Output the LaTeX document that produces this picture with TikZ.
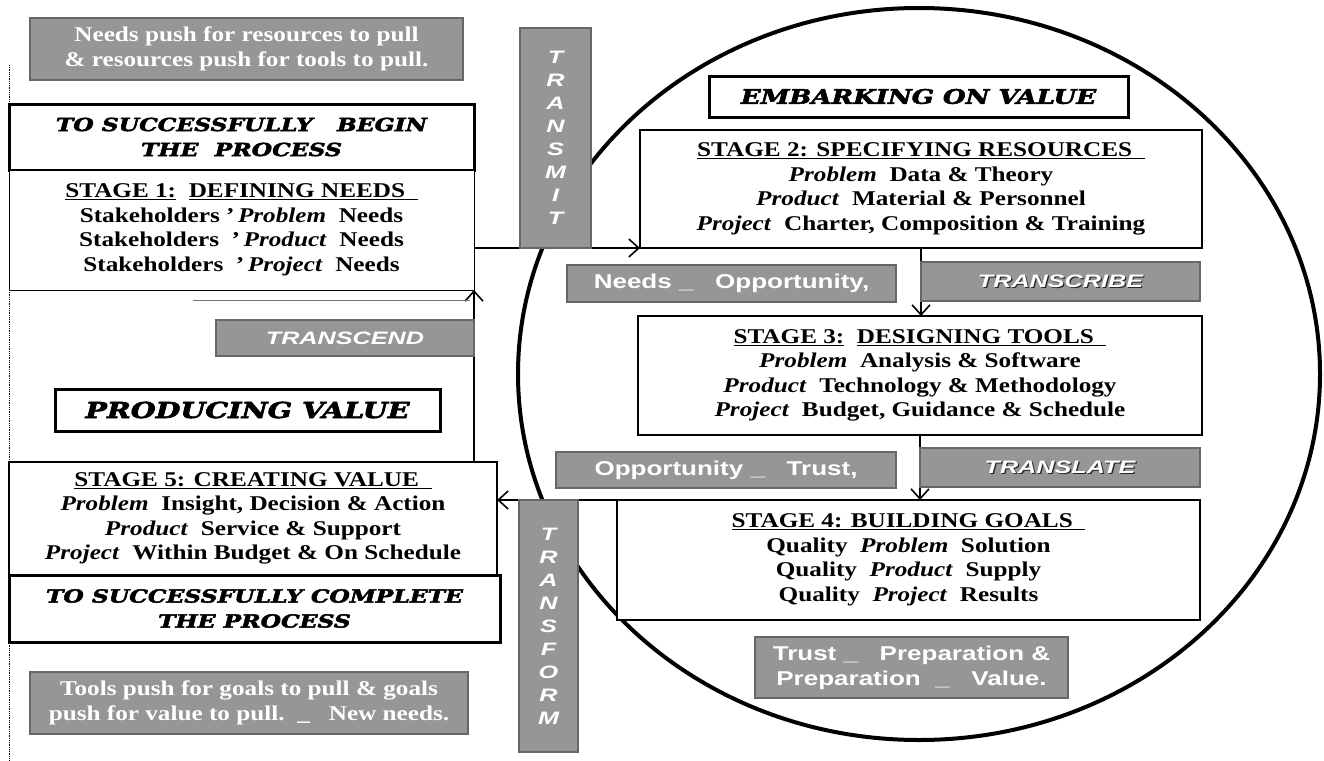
\documentclass[tikz,border=0pt]{standalone}
\usepackage{fontspec}
\setmainfont{Liberation Serif}
\setsansfont{Liberation Sans}
\newfontfamily\heavyfont[FakeBold=2.5]{DejaVu Serif}
\newfontfamily\stagerm[FakeStretch=1.2]{Liberation Serif}
\newfontfamily\notesans[FakeStretch=1.3]{Liberation Sans}
\newfontfamily\verbsans[FakeStretch=1.4]{Liberation Sans}
\usepackage{graphicx}
\usepackage{xcolor}
\usetikzlibrary{positioning}
\usetikzlibrary{arrows.meta}
\usetikzlibrary{calc}
\definecolor{boxgray}{RGB}{150,150,150}
\newcommand{\heavy}[2][18]{\scalebox{1.3}[1]{\heavyfont\bfseries\itshape\fontsize{#1}{25}\selectfont #2}}
\newcommand{\stagefont}{\stagerm\bfseries\fontsize{21}{24.5}\selectfont}
\newcommand{\notefont}{\notesans\bfseries\fontsize{20}{25}\selectfont}
\newcommand{\verbfont}{\verbsans\bfseries\itshape\fontsize{18}{23}\selectfont}
\newcommand{\titlefont}{\fontsize{18}{25}\selectfont}
\newcommand{\shadowed}[1]{\makebox[0pt][l]{\hspace{1.2pt}\raisebox{-1.2pt}{\color{black!85}#1}}#1}

\begin{document}
\begin{tikzpicture}[
  x=1pt, y=-1pt,
  stagebox/.style={draw, line width=2.5pt, fill=white, align=center, anchor=north west, inner sep=0pt, outer sep=0pt, font=\stagefont},
  titlebox/.style={draw, line width=3pt, fill=white, align=center, anchor=north west, inner sep=0pt, outer sep=0pt, font=\titlefont},
  notebox/.style={draw=black!60, line width=1.2pt, fill=boxgray, text=white, align=center, anchor=north west, inner sep=0pt, outer sep=0pt, font=\stagefont},
  sansbox/.style={notebox, font=\notefont},
  verbbox/.style={notebox, font=\verbfont},
  arrow/.style={-{Straight Barb[length=10pt, width=18pt, line width=1.6pt]}, line width=1.1pt},
  rim/.style={line width=4pt}
]
\useasboundingbox (0,0) rectangle (1324,760);

\draw[rim] (919,374) ellipse [x radius=401pt, y radius=366pt];
\draw[densely dotted, line width=0.8pt] (9,65) -- (9,760);

\node[titlebox, minimum width=465pt, minimum height=66pt] (begin) at (9,104)
  {\heavy{TO SUCCESSFULLY\ \ \ BEGIN}\\\heavy{THE\ \ PROCESS}};
\node[stagebox, line width=0.8pt, minimum width=465pt, minimum height=120pt, below=0pt of begin] (stage1)
  {\underline{STAGE 1:}\ \ \underline{DEFINING NEEDS\ \ }\\
   Stakeholders\ ’\,\textit{Problem}\ \ Needs\\
   Stakeholders\ \ ’\,\textit{Product}\ \ Needs\\
   Stakeholders\ \ ’\,\textit{Project}\ \ Needs};

\node[titlebox, minimum width=419pt, minimum height=41pt] (embark) at (709,76)
  {\heavy[20]{EMBARKING ON VALUE}};
\node[stagebox, minimum width=562pt, minimum height=118pt] (stage2) at (640,130)
  {\underline{STAGE 2: SPECIFYING RESOURCES\ \ }\\
   \textit{Problem}\ \ Data \& Theory\\
   \textit{Product}\ \ Material \& Personnel\\
   \textit{Project}\ \ Charter, Composition \& Training};
\node[stagebox, minimum width=564pt, minimum height=119pt] (stage3) at (638,316)
  {\underline{STAGE 3:}\ \ \underline{DESIGNING TOOLS\ \ }\\
   \textit{Problem}\ \ Analysis \& Software\\
   \textit{Product}\ \ Technology \& Methodology\\
   \textit{Project}\ \ Budget, Guidance \& Schedule};
\node[stagebox, minimum width=583pt, minimum height=120pt] (stage4) at (617,500)
  {\underline{STAGE 4: BUILDING GOALS\ \ }\\
   Quality\ \ \textit{Problem}\ \ Solution\\
   Quality\ \ \textit{Product}\ \ Supply\\
   Quality\ \ \textit{Project}\ \ Results};

\node[titlebox, minimum width=385pt, minimum height=42pt] (producing) at (55,389)
  {\heavy[22]{PRODUCING VALUE}};
\node[stagebox, minimum width=488pt, minimum height=113pt] (stage5) at (9,462)
  {\underline{STAGE 5: CREATING VALUE\ \ }\\
   \textit{Problem}\ \ Insight, Decision \& Action\\
   \textit{Product}\ \ Service \& Support\\
   \textit{Project}\ \ Within Budget \& On Schedule};
\node[titlebox, minimum width=491pt, minimum height=67pt] (complete) at (9,575)
  {\heavy{TO SUCCESSFULLY COMPLETE}\\\heavy{THE PROCESS}};

\draw[arrow] (stage2.south west -| stage1.east) -- (stage2.south west);
\draw[arrow] (stage2.south -| 921,0) -- (stage3.north -| 921,0);
\draw[arrow] (stage3.south -| 920,0) -- (stage4.north -| 920,0);
\draw[arrow] (stage4.north west) -- (stage4.north west -| stage5.east);
\draw[arrow] (stage5.north -| stage1.east) -- (stage1.south east);
\draw[black!55, line width=0.7pt] (193,300) -- (470,300);

\node[notebox, minimum width=433pt, minimum height=62pt] (pushtop) at (30,18)
  {Needs push for resources to pull\\\& resources push for tools to pull.};
\node[verbbox, minimum width=71pt, minimum height=220pt] (transmit) at (520,28)
  {T\\R\\A\\N\\S\\M\\I\\T};
\node[sansbox, minimum width=329pt, minimum height=37pt] (needsopp) at (567,265)
  {Needs \_ \ \ Opportunity,};
\node[verbbox, minimum width=279pt, minimum height=39pt] (transcribe) at (921,262)
  {\shadowed{TRANSCRIBE}};
\node[sansbox, minimum width=340pt, minimum height=36pt] (opptrust) at (556,452)
  {Opportunity \_ \ \ Trust,};
\node[verbbox, minimum width=280pt, minimum height=39pt] (translate) at (920,448)
  {\shadowed{TRANSLATE}};
\node[sansbox, minimum width=313pt, minimum height=61pt] (trustprep) at (755,637)
  {Trust \_ \ \ Preparation \&\\Preparation \ \_ \ \ Value.};
\node[verbbox, minimum width=59pt, minimum height=252pt] (transform) at (519,500)
  {T\\R\\A\\N\\S\\F\\O\\R\\M};
\node[verbbox, minimum width=258pt, minimum height=36pt] (transcend) at (216,320)
  {TRANSCEND};
\node[notebox, minimum width=438pt, minimum height=62pt] (pushbottom) at (30,672)
  {Tools push for goals to pull \& goals\\push for value to pull.\ \ \_\ \ \ New needs.};

\end{tikzpicture}
\end{document}
